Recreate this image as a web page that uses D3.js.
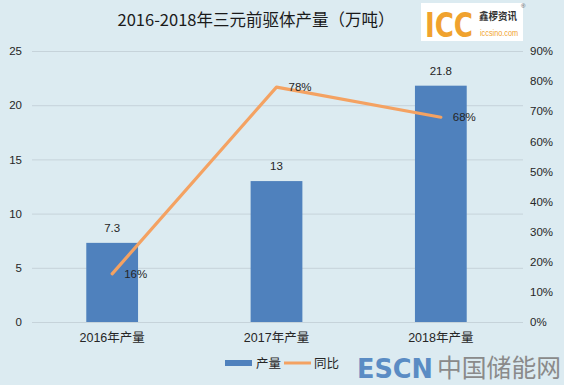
<!DOCTYPE html>
<html>
<head>
<meta charset="utf-8">
<script src="https://cdn.jsdelivr.net/npm/d3@7"></script>
<style>
  body { margin: 0; background: #dcebf1; }
  svg { display: block; font-family: Calibri, Carlito, "Noto Sans CJK SC", sans-serif; }
</style>
</head>
<body>
<svg id="chart" width="564" height="385"></svg>
<script>
const categories = ['2016年产量', '2017年产量', '2018年产量'];
const output = [7.3, 13, 21.8];
const growth = [0.16, 0.78, 0.68];
const leftTicks = [0, 5, 10, 15, 20, 25];
const rightTicks = [0, 0.1, 0.2, 0.3, 0.4, 0.5, 0.6, 0.7, 0.8, 0.9];

const cfg = {
  barColor: '#4f81bd',
  lineColor: '#f4a262',
  textColor: '#262626',
  gridColor: '#c6d3da',
  left: 30, right: 523, top: 51, bottom: 322,
};

const svg = d3.select('#chart');
const font = '"Liberation Sans", "Noto Sans CJK SC", sans-serif';

svg.append('rect').attr('width', 564).attr('height', 385).attr('fill', '#dcebf1');

const x = d3.scaleBand().domain(categories).range([cfg.left, cfg.right]);
const y = d3.scaleLinear().domain([0, 25]).range([cfg.bottom, cfg.top]);
const y2 = d3.scaleLinear().domain([0, 0.9]).range([cfg.bottom, cfg.top]);
const barW = x.bandwidth() * 0.315;
const cx = d => x(d) + x.bandwidth() / 2;

// gridlines
svg.append('g').selectAll('line').data(leftTicks).join('line')
  .attr('x1', cfg.left + 2).attr('x2', cfg.right)
  .attr('y1', d => y(d) + 0.5).attr('y2', d => y(d) + 0.5)
  .attr('stroke', cfg.gridColor).attr('stroke-width', 1);

// left axis labels
const leftAxis = svg.append('g')
  .attr('transform', `translate(${cfg.left - 8},0)`)
  .call(d3.axisLeft(y).tickValues(leftTicks).tickSize(0).tickPadding(0).tickFormat(d3.format('d')));
leftAxis.select('.domain').remove();
leftAxis.selectAll('text').attr('font-size', 11.5).attr('fill', cfg.textColor).attr('font-family', font);

// right axis labels
const rightAxis = svg.append('g')
  .attr('transform', `translate(${cfg.right + 7},0)`)
  .call(d3.axisRight(y2).tickValues(rightTicks).tickSize(0).tickPadding(0).tickFormat(d3.format('.0%')));
rightAxis.select('.domain').remove();
rightAxis.selectAll('text').attr('font-size', 11.5).attr('fill', cfg.textColor).attr('font-family', font);

// bars
svg.append('g').selectAll('rect').data(categories).join('rect')
  .attr('x', d => cx(d) - barW / 2)
  .attr('y', (d, i) => y(output[i]))
  .attr('width', barW)
  .attr('height', (d, i) => y(0) - y(output[i]))
  .attr('fill', cfg.barColor);

// category labels
svg.append('g').selectAll('text').data(categories).join('text')
  .attr('x', d => cx(d)).attr('y', cfg.bottom + 20)
  .attr('text-anchor', 'middle').attr('font-size', 12.5)
  .attr('font-family', font).attr('fill', cfg.textColor)
  .text(d => d);

// bar value labels
svg.append('g').selectAll('text').data(categories).join('text')
  .attr('x', d => cx(d)).attr('y', (d, i) => y(output[i]) - 11)
  .attr('text-anchor', 'middle').attr('font-size', 11.5)
  .attr('font-family', font).attr('fill', cfg.textColor)
  .text((d, i) => output[i]);

// growth line
const line = d3.line().x((d, i) => cx(categories[i])).y(d => y2(d));
svg.append('path').datum(growth)
  .attr('d', line).attr('fill', 'none')
  .attr('stroke', cfg.lineColor).attr('stroke-width', 3.2)
  .attr('stroke-linecap', 'round').attr('stroke-linejoin', 'round');

svg.append('g').selectAll('text').data(growth).join('text')
  .attr('x', (d, i) => cx(categories[i]) + 12).attr('y', d => y2(d) + 4)
  .attr('font-size', 11.5).attr('font-family', font).attr('fill', cfg.textColor)
  .text(d => d3.format('.0%')(d));

// title
svg.append('text')
  .attr('x', 256).attr('y', 26).attr('text-anchor', 'middle')
  .attr('font-size', 16.5).attr('fill', '#1a1a1a')
  .attr('font-family', '"Noto Sans CJK SC", sans-serif')
  .text('2016-2018年三元前驱体产量（万吨）');

// legend
const legend = svg.append('g').attr('transform', 'translate(225,363)');
legend.append('rect').attr('x', 0).attr('y', -3).attr('width', 27).attr('height', 6).attr('fill', cfg.barColor);
legend.append('text').attr('x', 31).attr('y', 5).attr('font-size', 12.5)
  .attr('font-family', font).attr('fill', cfg.textColor).text('产量');
legend.append('line').attr('x1', 59).attr('x2', 86).attr('y1', 0).attr('y2', 0)
  .attr('stroke', cfg.lineColor).attr('stroke-width', 3);
legend.append('text').attr('x', 89).attr('y', 5).attr('font-size', 12.5)
  .attr('font-family', font).attr('fill', cfg.textColor).text('同比');

// ICC logo
const logo = svg.append('g');
logo.append('rect').attr('x', 421).attr('y', 3).attr('width', 102).attr('height', 38).attr('fill', '#ffffff');
logo.append('text').attr('x', 425).attr('y', 37).attr('font-size', 34).attr('font-weight', 'bold')
  .attr('font-family', '"Liberation Sans Narrow", "DejaVu Sans Condensed", sans-serif')
  .attr('textLength', 48).attr('lengthAdjust', 'spacingAndGlyphs')
  .attr('fill', '#f0a22e').text('ICC');
logo.append('text').attr('x', 479).attr('y', 20).attr('font-size', 10).attr('font-weight', 'bold')
  .attr('font-family', '"Noto Sans CJK SC", sans-serif').attr('fill', '#333')
  .attr('textLength', 38).attr('lengthAdjust', 'spacingAndGlyphs').text('鑫椤资讯');
logo.append('text').attr('x', 480).attr('y', 36).attr('font-size', 9)
  .attr('font-family', font).attr('fill', '#f0a22e')
  .attr('textLength', 38).attr('lengthAdjust', 'spacingAndGlyphs').text('iccsino.com');
logo.append('text').attr('x', 521).attr('y', 8).attr('font-size', 6)
  .attr('font-family', font).attr('fill', '#555').text('®');

// watermark
svg.append('text').attr('x', 357).attr('y', 378).attr('font-size', 27).attr('font-weight', 'bold')
  .attr('font-family', '"DejaVu Sans", sans-serif').attr('fill', '#5a8cc4')
  .attr('textLength', 76).attr('lengthAdjust', 'spacingAndGlyphs').text('ESCN');
svg.append('text').attr('x', 437).attr('y', 377).attr('font-size', 25)
  .attr('font-family', '"Noto Sans CJK SC", sans-serif').attr('fill', '#8a8a8a')
  .attr('textLength', 124).attr('lengthAdjust', 'spacingAndGlyphs').text('中国储能网');
</script>
</body>
</html>
